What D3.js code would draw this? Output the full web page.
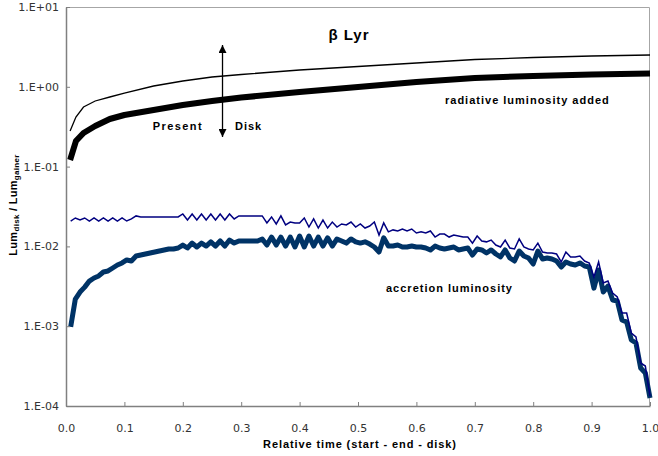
<!DOCTYPE html>
<html>
<head>
<meta charset="utf-8">
<script src="https://cdn.jsdelivr.net/npm/d3@7"></script>
<style>
body { margin: 0; background: #fff; }
</style>
</head>
<body>
<div id="chart"></div>
<script>
// tick values and labels
const xTicks = [0, 0.1, 0.2, 0.3, 0.4, 0.5, 0.6, 0.7, 0.8, 0.9, 1.0]
const yTicks = [1e-4, 1e-3, 1e-2, 1e-1, 1, 10]
const yTickLabels = ['1.E-04', '1.E-03', '1.E-02', '1.E-01', '1.E+00', '1.E+01']

// radiative luminosity (upper thin = added, lower thick)
const radTime = [0.007, 0.017, 0.03, 0.05, 0.075, 0.1, 0.15, 0.2, 0.25, 0.3, 0.4, 0.5, 0.6, 0.7, 0.8, 0.9, 1.0]
const radUpper = [0.279, 0.418, 0.558, 0.664, 0.745, 0.836, 1.023, 1.182, 1.327, 1.426, 1.623, 1.796, 1.987, 2.198, 2.329, 2.432, 2.503]
const radLower = [0.121, 0.209, 0.264, 0.323, 0.395, 0.443, 0.512, 0.591, 0.664, 0.734, 0.861, 0.994, 1.149, 1.289, 1.365, 1.426, 1.468]

// accretion luminosity
const accTime = [0.008, 0.016, 0.024, 0.032, 0.04, 0.048, 0.056, 0.064, 0.072, 0.08,
    0.088, 0.096, 0.104, 0.112, 0.12, 0.128, 0.136, 0.144, 0.152, 0.16,
    0.168, 0.176, 0.184, 0.192, 0.2, 0.208, 0.216, 0.224, 0.232, 0.24,
    0.248, 0.256, 0.264, 0.272, 0.28, 0.288, 0.296, 0.304, 0.312, 0.32,
    0.328, 0.336, 0.344, 0.352, 0.36, 0.368, 0.376, 0.384, 0.392, 0.4,
    0.408, 0.416, 0.424, 0.432, 0.44, 0.448, 0.456, 0.464, 0.472, 0.48,
    0.488, 0.496, 0.504, 0.512, 0.52, 0.528, 0.536, 0.544, 0.552, 0.56,
    0.568, 0.576, 0.584, 0.592, 0.6, 0.608, 0.616, 0.624, 0.632, 0.64,
    0.648, 0.656, 0.664, 0.672, 0.68, 0.688, 0.696, 0.704, 0.712, 0.72,
    0.728, 0.736, 0.744, 0.752, 0.76, 0.768, 0.776, 0.784, 0.792, 0.8,
    0.808, 0.816, 0.824, 0.832, 0.84, 0.848, 0.856, 0.864, 0.872, 0.88,
    0.888, 0.896, 0.904, 0.912, 0.92, 0.928, 0.936, 0.944, 0.952, 0.96,
    0.968, 0.976, 0.984, 0.992, 1.0]
const accUpper = [0.0208, 0.0227, 0.0214, 0.0227, 0.0208, 0.0227, 0.0208, 0.0227, 0.0208, 0.0227,
    0.0208, 0.0227, 0.0208, 0.0221, 0.0241, 0.0234, 0.0234, 0.0234, 0.0234, 0.0234,
    0.0234, 0.0234, 0.0234, 0.0234, 0.0255, 0.0214, 0.0255, 0.0214, 0.0255, 0.0214,
    0.0255, 0.0214, 0.0255, 0.0214, 0.0255, 0.0221, 0.0241, 0.0241, 0.0241, 0.0241,
    0.0241, 0.0241, 0.0197, 0.0234, 0.0191, 0.0241, 0.0186, 0.0202, 0.0197, 0.0197,
    0.0227, 0.0175, 0.0221, 0.0170, 0.0214, 0.0170, 0.0202, 0.0175, 0.0191, 0.0186,
    0.0202, 0.0175, 0.0191, 0.0170, 0.0180, 0.0202, 0.0139, 0.0197, 0.0152, 0.0161,
    0.0156, 0.0165, 0.0156, 0.0165, 0.0147, 0.0152, 0.0147, 0.0156, 0.0131, 0.0143,
    0.0143, 0.0131, 0.0139, 0.0135, 0.0131, 0.0131, 0.0110, 0.0135, 0.0117, 0.0114,
    0.0120, 0.0104, 0.00983, 0.0120, 0.00955, 0.00928, 0.0124, 0.00983, 0.00928, 0.00902,
    0.0110, 0.00851, 0.00827, 0.00827, 0.00803, 0.00638, 0.00851, 0.00737, 0.00737, 0.00758,
    0.00656, 0.00620, 0.00414, 0.00638, 0.00348, 0.00368, 0.00260, 0.00232, 0.00146, 0.00146,
    0.000822, 0.000732, 0.000346, 0.000317, 0.000133]
const accLower = [0.00098, 0.00219, 0.00268, 0.00309, 0.00368, 0.00402, 0.00426, 0.00478, 0.00492, 0.00536,
    0.00585, 0.00620, 0.00676, 0.00656, 0.00758, 0.00780, 0.00803, 0.00827, 0.00851, 0.00876,
    0.00902, 0.00928, 0.00928, 0.00955, 0.0104, 0.00955, 0.0110, 0.00983, 0.0110, 0.0101,
    0.0114, 0.0101, 0.0117, 0.0101, 0.0120, 0.0110, 0.0117, 0.0117, 0.0117, 0.0117,
    0.0117, 0.0124, 0.0104, 0.0131, 0.0104, 0.0131, 0.0101, 0.0131, 0.00983, 0.0135,
    0.00983, 0.0135, 0.0101, 0.0131, 0.0101, 0.0128, 0.0101, 0.0124, 0.0117, 0.0110,
    0.0124, 0.0114, 0.0110, 0.0114, 0.0107, 0.00983, 0.00851, 0.0128, 0.0101, 0.0101,
    0.0104, 0.00983, 0.00983, 0.0101, 0.00983, 0.00983, 0.00955, 0.00902, 0.0101, 0.00955,
    0.00928, 0.00955, 0.00983, 0.00902, 0.00928, 0.00955, 0.00780, 0.00928, 0.00902, 0.00827,
    0.00902, 0.00803, 0.00737, 0.00902, 0.00716, 0.00656, 0.00876, 0.00758, 0.00716, 0.00602,
    0.00876, 0.00695, 0.00716, 0.00695, 0.00656, 0.00552, 0.00638, 0.00602, 0.00585, 0.00620,
    0.00568, 0.00552, 0.00300, 0.00506, 0.00268, 0.00318, 0.00213, 0.00207, 0.00120, 0.00113,
    0.000672, 0.000616, 0.000299, 0.000259, 0.000126]

// "present" marker
const presentTime = 0.268
const arrowRange = [3.34, 0.235]

function drawChart() {

    // 1. dimensions
    let dimensions = {
        width: 658,
        height: 456,
        margin: { top: 7, right: 8, bottom: 50, left: 66 },
    }
    dimensions.innerWidth = dimensions.width - dimensions.margin.left - dimensions.margin.right
    dimensions.innerHeight = dimensions.height - dimensions.margin.top - dimensions.margin.bottom

    const outer = d3.select('#chart')
        .append('svg')
            .attr('width', dimensions.width)
            .attr('height', dimensions.height)
            .style('display', 'block')

    const inner = outer.append('g')
        .attr('transform', `translate(${dimensions.margin.left}, ${dimensions.margin.top})`)

    // 2. scales
    const xScale = d3.scaleLinear()
        .domain([0, 1])
        .range([0, dimensions.innerWidth])

    const yScale = d3.scaleLog()
        .domain([1e-4, 10])
        .range([dimensions.innerHeight, 0])

    // frame (top / right)
    inner.append('path')
        .attr('d', `M0,0.5H${dimensions.innerWidth - 0.5}V${dimensions.innerHeight}`)
        .attr('fill', 'none')
        .attr('stroke', '#a6a6a6')
        .attr('stroke-width', 1)

    // 3. lines
    const line = (times) => d3.line()
        .x((d, i) => xScale(times[i]))
        .y(d => yScale(d))

    inner.append('path')
        .attr('d', line(radTime)(radLower))
        .attr('fill', 'none')
        .attr('stroke', '#000')
        .attr('stroke-width', 6)
        .attr('stroke-linejoin', 'round')

    inner.append('path')
        .attr('d', line(radTime)(radUpper))
        .attr('fill', 'none')
        .attr('stroke', '#000')
        .attr('stroke-width', 1.3)

    inner.append('path')
        .attr('d', line(accTime)(accLower))
        .attr('fill', 'none')
        .attr('stroke', '#003366')
        .attr('stroke-width', 5)
        .attr('stroke-linejoin', 'round')

    inner.append('path')
        .attr('d', line(accTime)(accUpper))
        .attr('fill', 'none')
        .attr('stroke', '#000080')
        .attr('stroke-width', 1.5)

    // 4. axes
    const xAxis = d3.axisBottom(xScale)
        .tickValues(xTicks)
        .tickFormat(d3.format('.1f'))
        .tickSize(-4)
        .tickSizeOuter(0)
        .tickPadding(18)

    const xAxisGroup = inner.append('g')
        .attr('transform', `translate(0, ${dimensions.innerHeight})`)
        .call(xAxis)

    const yAxis = d3.axisLeft(yScale)
        .tickValues(yTicks)
        .tickFormat((d, i) => yTickLabels[i])
        .tickSize(-4)
        .tickSizeOuter(0)
        .tickPadding(7)

    const yAxisGroup = inner.append('g')
        .call(yAxis)

    for (const g of [xAxisGroup, yAxisGroup]) {
        g.select('.domain').attr('stroke', '#808080').attr('stroke-width', 1.5)
        g.selectAll('.tick line').attr('stroke', '#808080')
        g.selectAll('.tick text')
            .attr('fill', '#333')
            .style('font-family', '"DejaVu Sans", Verdana, sans-serif')
            .style('font-size', '11px')
    }

    const boldText = (sel) => sel
        .style('font-family', '"Liberation Sans", Arial, sans-serif')
        .style('font-weight', 'bold')
        .style('font-size', '11px')
        .style('letter-spacing', '1px')
        .attr('fill', '#000')

    // axis titles
    outer.append('text')
        .attr('x', 360)
        .attr('y', 448)
        .attr('text-anchor', 'middle')
        .call(boldText)
        .style('letter-spacing', '0.9px')
        .text('Relative time (start - end - disk)')

    const yTitle = outer.append('text')
        .attr('transform', 'translate(17, 205) rotate(-90)')
        .attr('text-anchor', 'middle')
        .call(boldText)
        .style('letter-spacing', '0.3px')
    yTitle.append('tspan').text('Lum')
    yTitle.append('tspan').attr('dy', 2).style('font-size', '8px').text('disk')
    yTitle.append('tspan').attr('dy', -2).text(' / Lum')
    yTitle.append('tspan').attr('dy', 2).style('font-size', '8px').text('gainer')

    // 5. annotations
    outer.append('text')
        .attr('x', 349)
        .attr('y', 40)
        .attr('text-anchor', 'middle')
        .call(boldText)
        .style('font-size', '15px')
        .text('β Lyr')

    const defs = outer.append('defs')
    defs.append('marker')
        .attr('id', 'head')
        .attr('viewBox', '0 0 10 10')
        .attr('refX', 10)
        .attr('refY', 5)
        .attr('markerWidth', 9)
        .attr('markerHeight', 8)
        .attr('markerUnits', 'userSpaceOnUse')
        .attr('orient', 'auto-start-reverse')
      .append('path')
        .attr('d', 'M0,0L10,5L0,10Z')
        .attr('fill', '#000')

    inner.append('line')
        .attr('x1', xScale(presentTime))
        .attr('x2', xScale(presentTime))
        .attr('y1', yScale(arrowRange[0]))
        .attr('y2', yScale(arrowRange[1]))
        .attr('stroke', '#000')
        .attr('stroke-width', 1.3)
        .attr('marker-start', 'url(#head)')
        .attr('marker-end', 'url(#head)')

    outer.append('text')
        .attr('x', 203)
        .attr('y', 130)
        .attr('text-anchor', 'end')
        .call(boldText)
        .style('letter-spacing', '1.4px')
        .text('Present')

    outer.append('text')
        .attr('x', 235)
        .attr('y', 130)
        .call(boldText)
        .text('Disk')

    outer.append('text')
        .attr('x', 445)
        .attr('y', 104)
        .call(boldText)
        .text('radiative luminosity added')

    outer.append('text')
        .attr('x', 386)
        .attr('y', 292)
        .call(boldText)
        .text('accretion luminosity')
}

drawChart()
</script>
</body>
</html>
